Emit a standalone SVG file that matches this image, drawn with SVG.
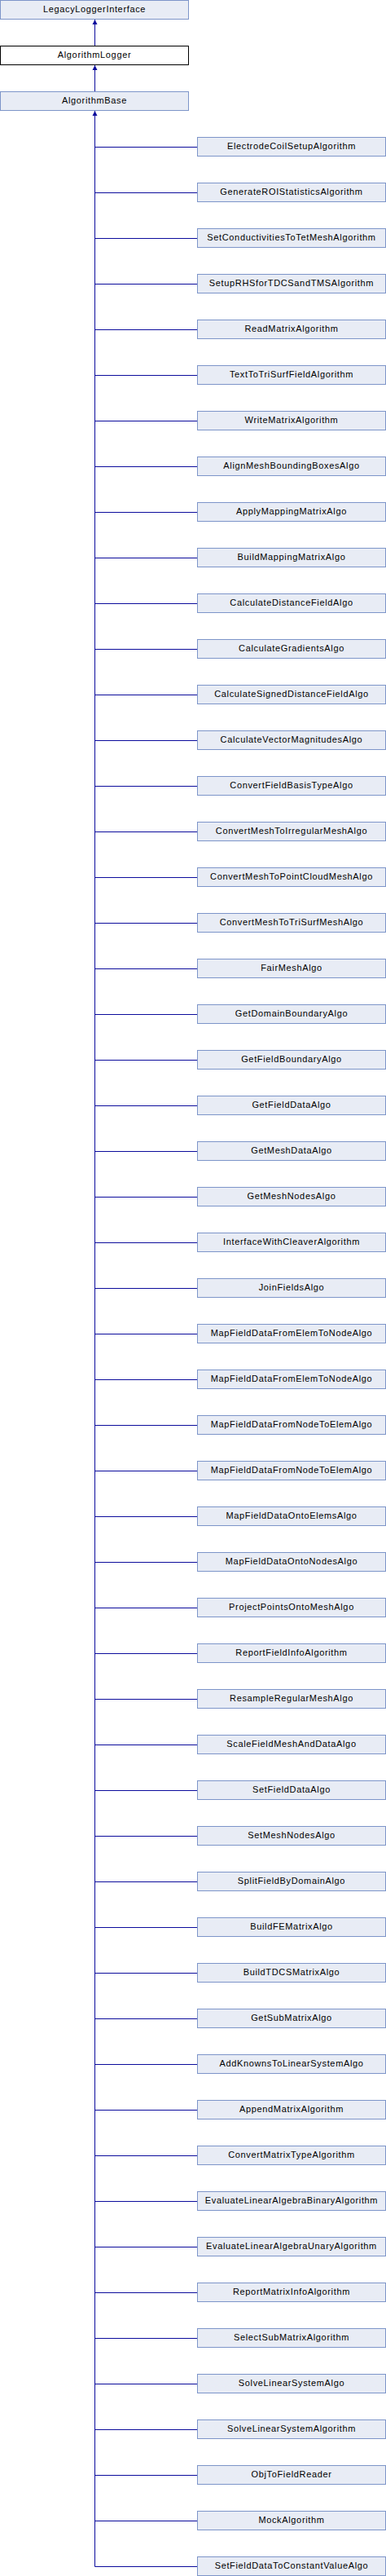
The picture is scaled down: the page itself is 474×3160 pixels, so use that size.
<svg xmlns="http://www.w3.org/2000/svg" width="474" height="3160" viewBox="0 0 474 3160">
<style>
.b{fill:#e8ecf5;stroke:#7d95c9;stroke-width:1}
.w{fill:#ffffff;stroke:#000000;stroke-width:1}
text{font-family:"Liberation Sans",Arial,sans-serif;font-size:11px;letter-spacing:0.65px;fill:#000;text-anchor:middle}
.c{fill:none;stroke:#0c0c9c;stroke-width:1}
</style>
<defs>
<marker id="ah" markerUnits="userSpaceOnUse" markerWidth="8" markerHeight="8" viewBox="0 0 8 8" refX="7" refY="4" orient="auto">
<path d="M1,1 L7,4 L1,7 Z" fill="#0c0c9c"/>
</marker>
</defs>
<g id="connectors">
<path class="c" d="M116.5,56 V24" marker-end="url(#ah)"/>
<path class="c" d="M116.5,112 V80" marker-end="url(#ah)"/>
<path class="c" d="M116.5,3148.5 V136" marker-end="url(#ah)"/>
<path class="c" d="M116.5,180.5H242M116.5,236.5H242M116.5,292.5H242M116.5,348.5H242M116.5,404.5H242M116.5,460.5H242M116.5,516.5H242M116.5,572.5H242M116.5,628.5H242M116.5,684.5H242M116.5,740.5H242M116.5,796.5H242M116.5,852.5H242M116.5,908.5H242M116.5,964.5H242M116.5,1020.5H242M116.5,1076.5H242M116.5,1132.5H242M116.5,1188.5H242M116.5,1244.5H242M116.5,1300.5H242M116.5,1356.5H242M116.5,1412.5H242M116.5,1468.5H242M116.5,1524.5H242M116.5,1580.5H242M116.5,1636.5H242M116.5,1692.5H242M116.5,1748.5H242M116.5,1804.5H242M116.5,1860.5H242M116.5,1916.5H242M116.5,1972.5H242M116.5,2028.5H242M116.5,2084.5H242M116.5,2140.5H242M116.5,2196.5H242M116.5,2252.5H242M116.5,2308.5H242M116.5,2364.5H242M116.5,2420.5H242M116.5,2476.5H242M116.5,2532.5H242M116.5,2588.5H242M116.5,2644.5H242M116.5,2700.5H242M116.5,2756.5H242M116.5,2812.5H242M116.5,2868.5H242M116.5,2924.5H242M116.5,2980.5H242M116.5,3036.5H242M116.5,3092.5H242M116.5,3148.5H242"/>
</g>
<g id="LegacyLoggerInterface"><rect class="b" x="0.5" y="0.5" width="231" height="23"/><text x="116" y="15">LegacyLoggerInterface</text></g>
<g id="AlgorithmLogger"><rect class="w" x="0.5" y="56.5" width="231" height="23"/><text x="116" y="71">AlgorithmLogger</text></g>
<g id="AlgorithmBase"><rect class="b" x="0.5" y="112.5" width="231" height="23"/><text x="116" y="127">AlgorithmBase</text></g>
<g id="c01"><rect class="b" x="242.5" y="168.5" width="231" height="23"/><text x="358" y="183">ElectrodeCoilSetupAlgorithm</text></g>
<g id="c02"><rect class="b" x="242.5" y="224.5" width="231" height="23"/><text x="358" y="239">GenerateROIStatisticsAlgorithm</text></g>
<g id="c03"><rect class="b" x="242.5" y="280.5" width="231" height="23"/><text x="358" y="295">SetConductivitiesToTetMeshAlgorithm</text></g>
<g id="c04"><rect class="b" x="242.5" y="336.5" width="231" height="23"/><text x="358" y="351">SetupRHSforTDCSandTMSAlgorithm</text></g>
<g id="c05"><rect class="b" x="242.5" y="392.5" width="231" height="23"/><text x="358" y="407">ReadMatrixAlgorithm</text></g>
<g id="c06"><rect class="b" x="242.5" y="448.5" width="231" height="23"/><text x="358" y="463">TextToTriSurfFieldAlgorithm</text></g>
<g id="c07"><rect class="b" x="242.5" y="504.5" width="231" height="23"/><text x="358" y="519">WriteMatrixAlgorithm</text></g>
<g id="c08"><rect class="b" x="242.5" y="560.5" width="231" height="23"/><text x="358" y="575">AlignMeshBoundingBoxesAlgo</text></g>
<g id="c09"><rect class="b" x="242.5" y="616.5" width="231" height="23"/><text x="358" y="631">ApplyMappingMatrixAlgo</text></g>
<g id="c10"><rect class="b" x="242.5" y="672.5" width="231" height="23"/><text x="358" y="687">BuildMappingMatrixAlgo</text></g>
<g id="c11"><rect class="b" x="242.5" y="728.5" width="231" height="23"/><text x="358" y="743">CalculateDistanceFieldAlgo</text></g>
<g id="c12"><rect class="b" x="242.5" y="784.5" width="231" height="23"/><text x="358" y="799">CalculateGradientsAlgo</text></g>
<g id="c13"><rect class="b" x="242.5" y="840.5" width="231" height="23"/><text x="358" y="855">CalculateSignedDistanceFieldAlgo</text></g>
<g id="c14"><rect class="b" x="242.5" y="896.5" width="231" height="23"/><text x="358" y="911">CalculateVectorMagnitudesAlgo</text></g>
<g id="c15"><rect class="b" x="242.5" y="952.5" width="231" height="23"/><text x="358" y="967">ConvertFieldBasisTypeAlgo</text></g>
<g id="c16"><rect class="b" x="242.5" y="1008.5" width="231" height="23"/><text x="358" y="1023">ConvertMeshToIrregularMeshAlgo</text></g>
<g id="c17"><rect class="b" x="242.5" y="1064.5" width="231" height="23"/><text x="358" y="1079">ConvertMeshToPointCloudMeshAlgo</text></g>
<g id="c18"><rect class="b" x="242.5" y="1120.5" width="231" height="23"/><text x="358" y="1135">ConvertMeshToTriSurfMeshAlgo</text></g>
<g id="c19"><rect class="b" x="242.5" y="1176.5" width="231" height="23"/><text x="358" y="1191">FairMeshAlgo</text></g>
<g id="c20"><rect class="b" x="242.5" y="1232.5" width="231" height="23"/><text x="358" y="1247">GetDomainBoundaryAlgo</text></g>
<g id="c21"><rect class="b" x="242.5" y="1288.5" width="231" height="23"/><text x="358" y="1303">GetFieldBoundaryAlgo</text></g>
<g id="c22"><rect class="b" x="242.5" y="1344.5" width="231" height="23"/><text x="358" y="1359">GetFieldDataAlgo</text></g>
<g id="c23"><rect class="b" x="242.5" y="1400.5" width="231" height="23"/><text x="358" y="1415">GetMeshDataAlgo</text></g>
<g id="c24"><rect class="b" x="242.5" y="1456.5" width="231" height="23"/><text x="358" y="1471">GetMeshNodesAlgo</text></g>
<g id="c25"><rect class="b" x="242.5" y="1512.5" width="231" height="23"/><text x="358" y="1527">InterfaceWithCleaverAlgorithm</text></g>
<g id="c26"><rect class="b" x="242.5" y="1568.5" width="231" height="23"/><text x="358" y="1583">JoinFieldsAlgo</text></g>
<g id="c27"><rect class="b" x="242.5" y="1624.5" width="231" height="23"/><text x="358" y="1639">MapFieldDataFromElemToNodeAlgo</text></g>
<g id="c28"><rect class="b" x="242.5" y="1680.5" width="231" height="23"/><text x="358" y="1695">MapFieldDataFromElemToNodeAlgo</text></g>
<g id="c29"><rect class="b" x="242.5" y="1736.5" width="231" height="23"/><text x="358" y="1751">MapFieldDataFromNodeToElemAlgo</text></g>
<g id="c30"><rect class="b" x="242.5" y="1792.5" width="231" height="23"/><text x="358" y="1807">MapFieldDataFromNodeToElemAlgo</text></g>
<g id="c31"><rect class="b" x="242.5" y="1848.5" width="231" height="23"/><text x="358" y="1863">MapFieldDataOntoElemsAlgo</text></g>
<g id="c32"><rect class="b" x="242.5" y="1904.5" width="231" height="23"/><text x="358" y="1919">MapFieldDataOntoNodesAlgo</text></g>
<g id="c33"><rect class="b" x="242.5" y="1960.5" width="231" height="23"/><text x="358" y="1975">ProjectPointsOntoMeshAlgo</text></g>
<g id="c34"><rect class="b" x="242.5" y="2016.5" width="231" height="23"/><text x="358" y="2031">ReportFieldInfoAlgorithm</text></g>
<g id="c35"><rect class="b" x="242.5" y="2072.5" width="231" height="23"/><text x="358" y="2087">ResampleRegularMeshAlgo</text></g>
<g id="c36"><rect class="b" x="242.5" y="2128.5" width="231" height="23"/><text x="358" y="2143">ScaleFieldMeshAndDataAlgo</text></g>
<g id="c37"><rect class="b" x="242.5" y="2184.5" width="231" height="23"/><text x="358" y="2199">SetFieldDataAlgo</text></g>
<g id="c38"><rect class="b" x="242.5" y="2240.5" width="231" height="23"/><text x="358" y="2255">SetMeshNodesAlgo</text></g>
<g id="c39"><rect class="b" x="242.5" y="2296.5" width="231" height="23"/><text x="358" y="2311">SplitFieldByDomainAlgo</text></g>
<g id="c40"><rect class="b" x="242.5" y="2352.5" width="231" height="23"/><text x="358" y="2367">BuildFEMatrixAlgo</text></g>
<g id="c41"><rect class="b" x="242.5" y="2408.5" width="231" height="23"/><text x="358" y="2423">BuildTDCSMatrixAlgo</text></g>
<g id="c42"><rect class="b" x="242.5" y="2464.5" width="231" height="23"/><text x="358" y="2479">GetSubMatrixAlgo</text></g>
<g id="c43"><rect class="b" x="242.5" y="2520.5" width="231" height="23"/><text x="358" y="2535">AddKnownsToLinearSystemAlgo</text></g>
<g id="c44"><rect class="b" x="242.5" y="2576.5" width="231" height="23"/><text x="358" y="2591">AppendMatrixAlgorithm</text></g>
<g id="c45"><rect class="b" x="242.5" y="2632.5" width="231" height="23"/><text x="358" y="2647">ConvertMatrixTypeAlgorithm</text></g>
<g id="c46"><rect class="b" x="242.5" y="2688.5" width="231" height="23"/><text x="358" y="2703">EvaluateLinearAlgebraBinaryAlgorithm</text></g>
<g id="c47"><rect class="b" x="242.5" y="2744.5" width="231" height="23"/><text x="358" y="2759">EvaluateLinearAlgebraUnaryAlgorithm</text></g>
<g id="c48"><rect class="b" x="242.5" y="2800.5" width="231" height="23"/><text x="358" y="2815">ReportMatrixInfoAlgorithm</text></g>
<g id="c49"><rect class="b" x="242.5" y="2856.5" width="231" height="23"/><text x="358" y="2871">SelectSubMatrixAlgorithm</text></g>
<g id="c50"><rect class="b" x="242.5" y="2912.5" width="231" height="23"/><text x="358" y="2927">SolveLinearSystemAlgo</text></g>
<g id="c51"><rect class="b" x="242.5" y="2968.5" width="231" height="23"/><text x="358" y="2983">SolveLinearSystemAlgorithm</text></g>
<g id="c52"><rect class="b" x="242.5" y="3024.5" width="231" height="23"/><text x="358" y="3039">ObjToFieldReader</text></g>
<g id="c53"><rect class="b" x="242.5" y="3080.5" width="231" height="23"/><text x="358" y="3095">MockAlgorithm</text></g>
<g id="c54"><rect class="b" x="242.5" y="3136.5" width="231" height="23"/><text x="358" y="3151">SetFieldDataToConstantValueAlgo</text></g>
</svg>
